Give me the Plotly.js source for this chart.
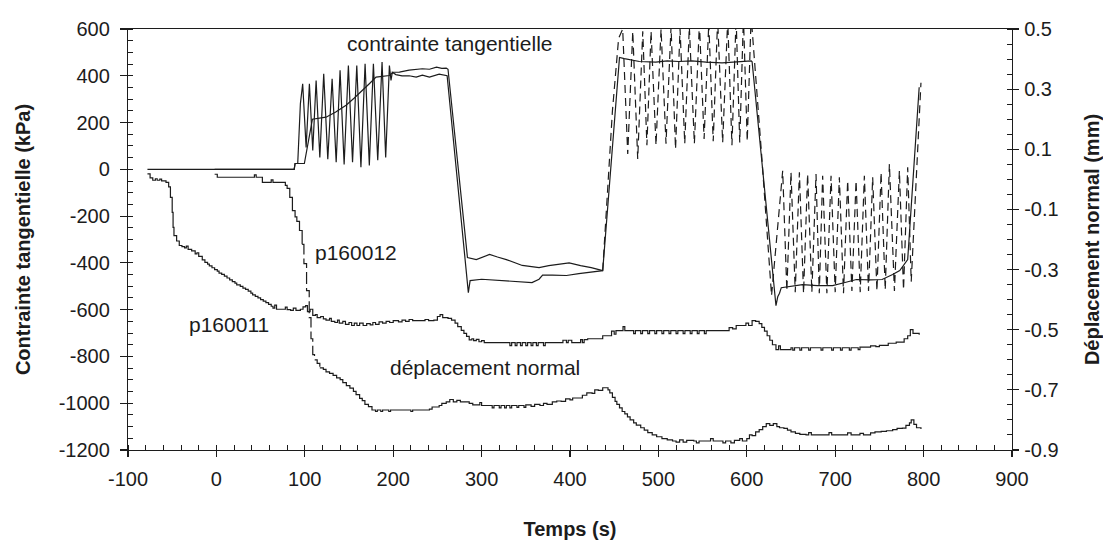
<!DOCTYPE html>
<html>
<head>
<meta charset="utf-8">
<script src="https://cdn.plot.ly/plotly-3.0.1.min.js"></script>
<style>html,body{margin:0;padding:0;background:#fff;}</style>
</head>
<body>
<div id="chart" style="width:1103px;height:540px;"></div>
<script>
// ---------- DATA ----------
// Shear stress (kPa), test p160011 - solid
const shear11 = [[-78,0],[88,0],[89,25],[92,25],[95,280],[97.6,366],[101.5,94],[105.2,366],[109,81],[112.8,380],[117,51],[121.4,409],[126,43],[130.9,387],[135.5,30],[139.9,423],[144.5,21],[149.3,444],[154,30],[158.8,444],[163.5,9],[168.2,451],[173,17],[177.6,451],[182.5,39],[187.4,459],[191.5,51],[195.7,444],[197.5,380],[199,415],[203,405],[210,400],[218,400],[226,394],[233,403],[241,394],[252,407],[260,403],[261,400],[285,-527],[287,-476],[300,-470],[310,-472],[330,-476],[345,-480],[357,-484],[365,-470],[369,-452],[380,-452],[396,-454],[410,-446],[419,-441],[437,-433],[456,478],[461.5,473],[478.5,461],[497,458],[510,464],[523,461],[538,464],[554,458],[572,455],[587,458],[605,464],[606,460],[633,-583],[635,-545],[637,-530],[639,-506],[650,-500],[663,-493],[680,-497],[697,-497],[710,-485],[724,-471],[740,-473],[753,-471],[765,-450],[773,-433],[782,-386],[795,351]];
// Shear stress (kPa), test p160012 - monotonic part
const shear12a = [[-2,0],[88,0],[89,25],[99.5,25],[108.6,214],[124,223],[135,245],[146.7,274],[156,305],[165.5,337],[173,366],[180.6,394],[195.7,401],[200,415],[207,416],[218,424],[226,428],[233,430],[241,428],[249,437],[255,432],[260,433],[262,428],[284,-377],[294,-386],[309,-364],[318,-375],[328,-386],[346,-411],[365,-420],[376,-412],[388,-407],[399,-400],[412,-412],[424,-420],[437,-433]];
// Shear stress (kPa), test p160012 - cyclic part (dashed)
const shear12b = [[437,-433],[448,250],[455,560],[459.6,600],[465.3,66],[471,590],[476.6,44],[482.3,590],[487,103],[491.7,590],[497.3,103],[503,600],[508.6,110],[514.3,610],[519.4,87],[524.5,600],[529.8,110],[535,610],[540.7,110],[546.4,625],[551.7,130],[557,625],[562,120],[567,640],[572.7,115],[578.4,640],[583.2,103],[587.9,650],[592,115],[596.2,650],[600.5,120],[604.9,655],[617,50],[628,-540],[640.6,-6],[645.3,-520],[650,-13],[654.8,-525],[659.5,-13],[664.2,-530],[668.8,-20],[673.6,-525],[678.3,-20],[682,-530],[685.8,-27],[690.6,-530],[695.3,-27],[700,-525],[704.7,-34],[709.4,-530],[714.1,-48],[718.9,-520],[723.6,-48],[728.3,-525],[733,-27],[737.7,-520],[742.4,-34],[747.2,-520],[751.9,-13],[756.6,-515],[761.3,23],[767,-520],[772.6,-6],[777.3,-515],[782,9],[786,-480],[797,370]];
// Normal displacement (mm), test p160011 - solid
const disp11 = [[-78,0.018],[-75,0.005],[-72,-0.003],[-69,0.002],[-67,-0.003],[-64,0.001],[-62,-0.005],[-57,-0.010],[-54,-0.025],[-52,-0.060],[-50,-0.110],[-49,-0.160],[-48,-0.187],[-45,-0.205],[-42,-0.220],[-39,-0.224],[-36,-0.228],[-34,-0.222],[-32,-0.233],[-28,-0.238],[-24,-0.248],[-22,-0.244],[-20,-0.256],[-16,-0.268],[-13,-0.276],[-10,-0.282],[-8,-0.288],[-5,-0.294],[-2,-0.300],[1,-0.305],[3,-0.312],[6,-0.316],[9,-0.322],[12,-0.328],[15,-0.334],[18,-0.340],[21,-0.345],[23,-0.351],[27,-0.356],[30,-0.362],[33,-0.366],[36,-0.372],[39,-0.378],[41,-0.384],[44,-0.389],[47,-0.394],[50,-0.400],[53,-0.405],[56,-0.410],[59,-0.416],[62,-0.422],[64,-0.428],[66,-0.418],[68,-0.432],[76,-0.432],[78,-0.425],[80,-0.433],[84,-0.436],[87,-0.428],[90,-0.436],[95,-0.432],[98,-0.424],[101,-0.420],[103,-0.440],[106,-0.432],[109,-0.452],[112,-0.450],[114,-0.460],[118,-0.456],[121,-0.464],[124,-0.468],[128,-0.462],[130,-0.472],[134,-0.476],[137,-0.468],[139,-0.478],[143,-0.472],[146,-0.482],[150,-0.476],[153,-0.486],[156,-0.478],[159,-0.486],[162,-0.478],[166,-0.486],[170,-0.480],[174,-0.484],[177,-0.476],[180,-0.482],[184,-0.474],[188,-0.478],[192,-0.472],[196,-0.476],[200,-0.470],[206,-0.474],[210,-0.468],[214,-0.472],[218,-0.466],[222,-0.470],[230,-0.470],[236,-0.466],[240,-0.470],[246,-0.468],[250,-0.456],[253,-0.450],[256,-0.460],[262,-0.462],[266,-0.468],[270,-0.478],[273,-0.490],[277,-0.502],[280,-0.512],[283,-0.522],[286,-0.534],[289,-0.530],[291,-0.536],[294,-0.532],[297,-0.540],[300,-0.536],[303,-0.543],[330,-0.543],[332,-0.553],[334,-0.543],[338,-0.553],[340,-0.543],[344,-0.553],[346,-0.543],[350,-0.553],[352,-0.543],[356,-0.553],[358,-0.543],[362,-0.553],[364,-0.543],[370,-0.553],[372,-0.543],[390,-0.543],[392,-0.535],[396,-0.543],[398,-0.535],[402,-0.543],[410,-0.543],[412,-0.533],[414,-0.543],[416,-0.533],[420,-0.530],[437,-0.520],[445,-0.520],[447,-0.505],[450,-0.515],[452,-0.503],[458,-0.503],[460,-0.490],[462,-0.503],[470,-0.503],[472,-0.513],[474,-0.503],[480,-0.513],[482,-0.503],[488,-0.513],[490,-0.503],[496,-0.513],[498,-0.503],[504,-0.513],[506,-0.503],[512,-0.513],[514,-0.503],[520,-0.513],[522,-0.503],[528,-0.513],[530,-0.503],[536,-0.513],[538,-0.503],[544,-0.513],[546,-0.503],[552,-0.513],[554,-0.503],[577,-0.503],[580,-0.493],[584,-0.497],[588,-0.486],[596,-0.486],[599,-0.478],[602,-0.486],[606,-0.470],[610,-0.472],[614,-0.480],[617,-0.492],[620,-0.505],[623,-0.520],[626,-0.535],[629,-0.550],[633,-0.566],[636,-0.554],[638,-0.566],[650,-0.560],[652,-0.568],[654,-0.560],[660,-0.568],[662,-0.560],[670,-0.568],[672,-0.560],[684,-0.568],[686,-0.560],[696,-0.568],[698,-0.560],[706,-0.568],[708,-0.560],[716,-0.568],[718,-0.560],[726,-0.566],[728,-0.558],[736,-0.558],[740,-0.554],[746,-0.556],[750,-0.552],[756,-0.552],[760,-0.545],[766,-0.545],[769,-0.541],[775,-0.541],[778,-0.530],[782,-0.520],[785,-0.500],[788,-0.512],[792,-0.512],[795,-0.517]];
// Normal displacement (mm), test p160012 - dashed
const disp12 = [[-2,0.017],[1,0.007],[20,0.007],[40,0.007],[43,0.015],[45,0.007],[50,0.007],[52,-0.010],[60,-0.010],[62,-0.002],[64,-0.010],[75,-0.010],[78,-0.020],[80,-0.030],[83,-0.060],[86,-0.104],[89,-0.125],[91,-0.140],[94,-0.170],[97,-0.216],[99,-0.280],[102,-0.370],[105,-0.460],[107,-0.530],[109,-0.583],[111,-0.600],[114,-0.612],[117,-0.627],[121,-0.632],[124,-0.640],[128,-0.645],[132,-0.652],[136,-0.660],[140,-0.666],[143,-0.676],[147,-0.686],[151,-0.694],[155,-0.705],[158,-0.716],[162,-0.728],[165,-0.736],[168,-0.748],[172,-0.756],[176,-0.767],[180,-0.772],[182,-0.767],[186,-0.772],[188,-0.767],[195,-0.772],[197,-0.767],[220,-0.772],[222,-0.767],[241,-0.764],[244,-0.757],[252,-0.752],[255,-0.745],[260,-0.740],[264,-0.732],[268,-0.740],[272,-0.735],[276,-0.740],[286,-0.745],[290,-0.750],[296,-0.750],[298,-0.742],[300,-0.752],[312,-0.760],[314,-0.752],[320,-0.760],[322,-0.752],[326,-0.760],[328,-0.752],[332,-0.760],[334,-0.752],[340,-0.758],[342,-0.752],[348,-0.758],[350,-0.750],[356,-0.755],[360,-0.748],[366,-0.752],[370,-0.745],[374,-0.748],[380,-0.740],[385,-0.737],[390,-0.738],[395,-0.730],[400,-0.733],[403,-0.727],[410,-0.727],[414,-0.718],[419,-0.710],[425,-0.712],[428,-0.700],[432,-0.702],[437,-0.693],[440,-0.693],[443,-0.700],[445,-0.710],[448,-0.725],[451,-0.738],[453,-0.748],[456,-0.760],[459,-0.772],[462,-0.780],[465,-0.790],[468,-0.800],[472,-0.810],[475,-0.817],[480,-0.826],[484,-0.834],[488,-0.842],[493,-0.850],[498,-0.856],[504,-0.862],[510,-0.866],[516,-0.870],[520,-0.874],[524,-0.866],[528,-0.874],[532,-0.868],[540,-0.870],[543,-0.876],[546,-0.870],[556,-0.870],[559,-0.862],[562,-0.870],[570,-0.870],[573,-0.876],[576,-0.870],[582,-0.876],[586,-0.868],[592,-0.862],[595,-0.870],[600,-0.862],[603,-0.850],[606,-0.852],[610,-0.840],[614,-0.832],[618,-0.822],[622,-0.812],[626,-0.818],[630,-0.812],[634,-0.822],[637,-0.826],[642,-0.828],[646,-0.834],[650,-0.840],[655,-0.845],[660,-0.848],[667,-0.850],[670,-0.842],[673,-0.850],[690,-0.850],[693,-0.842],[696,-0.850],[710,-0.850],[714,-0.843],[718,-0.850],[728,-0.845],[732,-0.850],[740,-0.843],[745,-0.840],[752,-0.838],[758,-0.836],[765,-0.832],[770,-0.828],[776,-0.827],[780,-0.818],[784,-0.810],[786,-0.800],[789,-0.815],[792,-0.826],[797,-0.830]];

// Tick values / labels
const xTickVals = [-100,0,100,200,300,400,500,600,700,800,900];
const xTickText = ['-100','0','100','200','300','400','500','600','700','800','900'];
const yTickVals = [-1200,-1000,-800,-600,-400,-200,0,200,400,600];
const yTickText = ['-1200','-1000','-800','-600','-400','-200','0','200','400','600'];
const y2TickVals = [-0.9,-0.7,-0.5,-0.3,-0.1,0.1,0.3,0.5];
const y2TickText = ['-0.9','-0.7','-0.5','-0.3','-0.1','0.1','0.3','0.5'];
const labels = ['contrainte tangentielle','p160012','p160011','déplacement normal'];

// ---------- PLOT ----------
const FONT = '"Liberation Sans", Arial, Helvetica, sans-serif';
const INK = '#1c1c1c';
const xs = a => a.map(p => p[0]);
const ys = a => a.map(p => p[1]);
// the long steep drop of p160012 shows its dashes; the staircase parts read as solid
const d12a = disp12.filter(p => p[0] <= 97);
const d12b = disp12.filter(p => p[0] >= 97 && p[0] <= 117);
const d12c = disp12.filter(p => p[0] >= 117);

const traces = [
  {x: xs(shear11), y: ys(shear11), type:'scatter', mode:'lines', line:{color:INK, width:1.2}, yaxis:'y'},
  {x: xs(shear12a), y: ys(shear12a), type:'scatter', mode:'lines', line:{color:INK, width:1.2}, yaxis:'y'},
  {x: xs(shear12b), y: ys(shear12b), type:'scatter', mode:'lines', line:{color:INK, width:1.2, dash:'8px,5px'}, yaxis:'y'},
  {x: xs(disp11), y: ys(disp11), type:'scatter', mode:'lines', line:{color:INK, width:1.2, shape:'hv'}, yaxis:'y2'},
  {x: xs(d12a), y: ys(d12a), type:'scatter', mode:'lines', line:{color:INK, width:1.2, shape:'hv'}, yaxis:'y2'},
  {x: xs(d12b), y: ys(d12b), type:'scatter', mode:'lines', line:{color:INK, width:1.2, shape:'hv', dash:'12px,4px'}, yaxis:'y2'},
  {x: xs(d12c), y: ys(d12c), type:'scatter', mode:'lines', line:{color:INK, width:1.2, shape:'hv'}, yaxis:'y2'}
];

const common = {showgrid:false, zeroline:false, tickcolor:INK, tickwidth:1.2, linecolor:INK, linewidth:1.2,
  tickfont:{family:FONT, size:20, color:INK}};

const layout = {
  width:1103, height:540,
  margin:{l:128, r:91, t:29, b:90, pad:0},
  paper_bgcolor:'#ffffff', plot_bgcolor:'#ffffff',
  showlegend:false,
  font:{family:FONT, size:20, color:INK},
  xaxis: Object.assign({}, common, {
    range:[-100,900], tickmode:'array', tickvals:xTickVals, ticktext:xTickText,
    ticks:'outside', ticklen:6, ticklabelstandoff:5,
    minor:{tickmode:'linear', tick0:0, dtick:20, ticks:'inside', ticklen:5, tickwidth:1, tickcolor:INK},
    showline:true, mirror:true,
    title:{text:'Temps (s)', font:{family:FONT, size:20, weight:'bold', color:INK}, standoff:39}
  }),
  yaxis: Object.assign({}, common, {
    range:[-1200,600], tickmode:'array', tickvals:yTickVals, ticktext:yTickText,
    ticks:'outside', ticklen:7, ticklabelstandoff:6,
    minor:{tickmode:'linear', tick0:0, dtick:50, ticks:'inside', ticklen:5, tickwidth:1, tickcolor:INK},
    showline:true,
    title:{text:'Contrainte tangentielle (kPa)', font:{family:FONT, size:20, weight:'bold', color:INK}, standoff:22}
  }),
  yaxis2: Object.assign({}, common, {
    overlaying:'y', side:'right', anchor:'x',
    range:[-0.9,0.5], tickmode:'array', tickvals:y2TickVals, ticktext:y2TickText,
    ticks:'outside', ticklen:6, ticklabelstandoff:1,
    minor:{tickmode:'linear', tick0:0.5, dtick:0.05, ticks:'inside', ticklen:5, tickwidth:1, tickcolor:INK},
    showline:true,
    title:{text:'Déplacement normal (mm)', font:{family:FONT, size:20, weight:'bold', color:INK}, standoff:28}
  }),
  // overlay axes giving the inner half of the crossing major ticks
  xaxis2: Object.assign({}, common, {overlaying:'x', anchor:'y', side:'bottom', range:[-100,900], tickmode:'array', tickvals:xTickVals, ticks:'inside', ticklen:6, showticklabels:false, showline:false}),
  yaxis3: Object.assign({}, common, {overlaying:'y', anchor:'x', side:'left', range:[-1200,600], tickmode:'array', tickvals:yTickVals, ticks:'inside', ticklen:6, showticklabels:false, showline:false}),
  yaxis4: Object.assign({}, common, {overlaying:'y', anchor:'x', side:'right', range:[-0.9,0.5], tickmode:'array', tickvals:y2TickVals, ticks:'inside', ticklen:6, showticklabels:false, showline:false}),
  annotations: [
    {text:labels[0], x:263.6, y:536, xref:'x', yref:'y', showarrow:false, font:{family:FONT, size:21, color:INK}},
    {text:labels[1], x:158, y:-356, xref:'x', yref:'y', showarrow:false, font:{family:FONT, size:21, color:INK}},
    {text:labels[2], x:14.7, y:-664, xref:'x', yref:'y', showarrow:false, font:{family:FONT, size:21, color:INK}},
    {text:labels[3], x:304, y:-849, xref:'x', yref:'y', showarrow:false, font:{family:FONT, size:21, color:INK}}
  ]
};

Plotly.newPlot('chart', traces, layout, {staticPlot:true, displayModeBar:false});
</script>
</body>
</html>
